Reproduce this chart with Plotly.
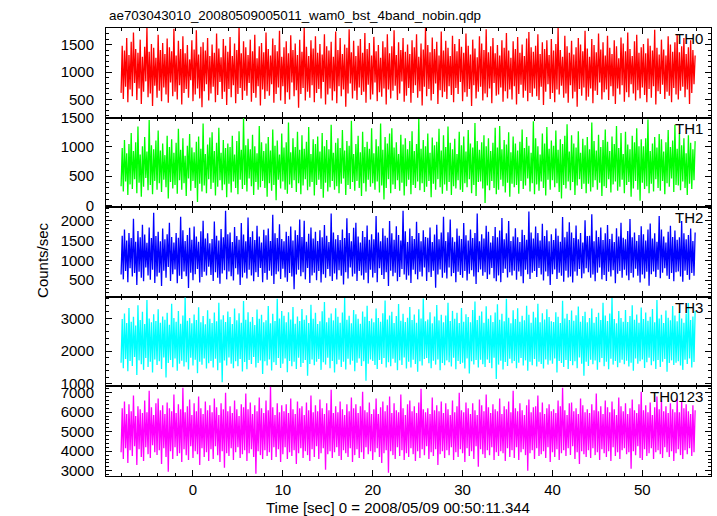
import plotly.graph_objects as go

TITLE = "ae703043010_20080509005011_wam0_bst_4band_nobin.qdp"
X_LABEL = "Time [sec] 0 = 2008/05/09 00:50:11.344"
Y_LABEL = "Counts/sec"
BANDS = ["TH0", "TH1", "TH2", "TH3", "TH0123"]
COLORS = ["#ff0000", "#00ff00", "#0000ff", "#00ffff", "#ff00ff"]

T_START = -8.0
T_BIN = 0.125

TH0 = [
    620, 1480, 510, 1390, 730, 1620, 450, 1310, 680, 1550, 560, 1720, 800, 1420, 490, 1350,
    700, 1590, 420, 1280, 640, 1460, 830, 1800, 540, 1370, 610, 1510, 380, 1440, 750, 1260,
    530, 1680, 660, 1400, 470, 1530, 720, 1330, 590, 1610, 440, 1450, 810, 1380, 560, 1790,
    640, 1300, 500, 1570, 760, 1420, 410, 1650, 620, 1340, 690, 1490, 530, 1230, 850, 1580,
    470, 1410, 590, 1760, 700, 1320, 520, 1460, 360, 1540, 650, 1390, 780, 1620, 480, 1290,
    610, 1500, 730, 1350, 450, 1700, 580, 1430, 820, 1270, 510, 1600, 640, 1480, 400, 1370,
    690, 1640, 540, 1290, 760, 1520, 430, 1400, 600, 1830, 710, 1340, 490, 1560, 660, 1450,
    570, 1310, 800, 1590, 460, 1380, 620, 1680, 530, 1250, 740, 1470, 390, 1530, 680, 1360,
    510, 1720, 650, 1420, 570, 1300, 780, 1610, 440, 1490, 600, 1380, 720, 1750, 480, 1280,
    740, 1450, 420, 1560, 630, 1340, 500, 1670, 810, 1400, 560, 1520, 670, 1310, 350, 1590,
    600, 1370, 710, 1800, 480, 1460, 640, 1290, 530, 1580, 760, 1430, 450, 1650, 620, 1350,
    690, 1510, 520, 1320, 820, 1690, 410, 1470, 590, 1390, 700, 1550, 480, 1280, 650, 1740,
    430, 1400, 740, 1620, 560, 1330, 680, 1500, 370, 1440, 610, 1780, 790, 1360, 520, 1570,
    660, 1290, 490, 1480, 720, 1600, 580, 1350, 640, 1710, 440, 1420, 770, 1530, 500, 1300,
    590, 1640, 810, 1380, 470, 1490, 630, 1260, 550, 1560, 700, 1450, 410, 1690, 680, 1340,
    520, 1470, 660, 1760, 750, 1310, 490, 1540, 610, 1400, 830, 1620, 460, 1370, 570, 1500,
    710, 1330, 440, 1580, 620, 1450, 760, 1690, 530, 1280, 650, 1520, 390, 1410, 730, 1820,
    560, 1490, 690, 1360, 480, 1630, 600, 1420, 790, 1550, 420, 1300, 670, 1740, 540, 1390,
    640, 1570, 510, 1440, 740, 1290, 580, 1660, 450, 1510, 710, 1380, 600, 1600, 820, 1460,
    470, 1350, 630, 1700, 550, 1480, 690, 1320, 380, 1590, 760, 1430, 520, 1270, 640, 1650,
    730, 1520, 480, 1400, 610, 1780, 540, 1360, 700, 1470, 430, 1620, 800, 1340, 570, 1490,
    590, 1300, 720, 1580, 460, 1440, 650, 1710, 520, 1390, 680, 1260, 500, 1560, 740, 1420,
    410, 1640, 600, 1350, 770, 1500, 530, 1290, 660, 1610, 470, 1730, 620, 1450, 550, 1370,
    700, 1480, 560, 1690, 490, 1330, 730, 1540, 400, 1420, 640, 1580, 780, 1310, 510, 1600,
    620, 1390, 450, 1510, 680, 1800, 590, 1400, 750, 1280, 530, 1660, 610, 1470, 440, 1350,
    760, 1570, 520, 1320, 640, 1450, 370, 1620, 690, 1500, 570, 1380, 720, 1750, 480, 1430,
    550, 1280, 700, 1600, 430, 1490, 660, 1360, 580, 1700, 810, 1410, 500, 1540, 630, 1300,
    680, 1660, 490, 1440, 740, 1330, 560, 1580, 420, 1470, 700, 1250, 590, 1630, 760, 1520,
    460, 1380, 630, 1720, 540, 1420, 780, 1290, 610, 1560, 480, 1680, 670, 1350, 520, 1450,
    720, 1510, 580, 1340, 450, 1610, 690, 1480, 530, 1390, 740, 1770, 410, 1440, 650, 1320,
    600, 1590, 770, 1410, 510, 1300, 640, 1650, 570, 1500, 450, 1370, 710, 1540, 590, 1690,
    500, 1360, 660, 1470, 730, 1620, 540, 1330, 680, 1450, 420, 1580, 620, 1400, 780, 1300,
]

TH1 = [
    330, 980, 240, 1120, 410, 890, 180, 1050, 360, 1240, 280, 930, 450, 1080, 210, 1350,
    390, 870, 150, 1010, 320, 1170, 470, 920, 260, 1460, 350, 1030, 190, 960, 420, 1110,
    270, 1280, 380, 940, 230, 1060, 440, 860, 310, 1190, 120, 1000, 400, 1130, 290, 900,
    350, 1070, 200, 1310, 430, 950, 270, 1150, 380, 850, 160, 1020, 460, 1220, 250, 990,
    420, 910, 300, 1090, 60, 1180, 370, 970, 240, 1400, 340, 880, 210, 1040, 450, 1160,
    280, 1250, 390, 930, 170, 1070, 320, 1330, 430, 900, 260, 1120, 360, 980, 140, 1060,
    370, 1000, 220, 1190, 410, 870, 300, 1100, 190, 1270, 440, 950, 280, 1490, 350, 1030,
    240, 1140, 460, 960, 330, 1210, 180, 1010, 400, 890, 270, 1360, 310, 1080, 420, 930,
    300, 1060, 150, 1170, 380, 940, 250, 1300, 350, 1020, 90, 1110, 440, 870, 290, 1230,
    410, 990, 270, 1080, 200, 1420, 360, 910, 300, 1150, 430, 1000, 230, 1260, 380, 950,
    190, 1200, 340, 970, 450, 1090, 260, 1340, 320, 880, 400, 1130, 170, 1050, 350, 1180,
    440, 920, 280, 1240, 130, 1010, 390, 1120, 240, 960, 310, 1380, 420, 900, 270, 1070,
    330, 1150, 210, 980, 370, 1290, 460, 940, 180, 1100, 350, 1020, 280, 1450, 400, 880,
    250, 1050, 420, 1190, 300, 910, 160, 1260, 380, 1000, 240, 1090, 440, 970, 320, 1320,
    380, 890, 270, 1130, 410, 1010, 220, 1400, 340, 950, 100, 1170, 300, 1060, 450, 1230,
    210, 1320, 360, 990, 280, 1080, 430, 880, 250, 1210, 390, 1040, 170, 1150, 330, 960,
    440, 1100, 190, 1270, 350, 930, 300, 1050, 410, 1480, 260, 970, 380, 1120, 230, 1010,
    320, 1230, 420, 900, 140, 1160, 370, 1030, 270, 1090, 450, 1310, 310, 940, 200, 1200,
    360, 1000, 250, 1350, 400, 1070, 180, 960, 330, 1140, 290, 880, 430, 1260, 270, 1030,
    230, 1180, 380, 920, 310, 1290, 450, 1060, 210, 990, 350, 1410, 160, 1100, 400, 950,
    410, 1080, 290, 1200, 40, 1010, 340, 1150, 260, 930, 420, 1070, 300, 1330, 190, 990,
    270, 1360, 440, 960, 330, 1120, 220, 1040, 390, 1250, 150, 910, 370, 1180, 310, 1060,
    350, 940, 200, 1090, 420, 1300, 280, 980, 340, 1170, 460, 1020, 240, 900, 380, 1440,
    190, 1150, 360, 1010, 250, 870, 410, 1230, 300, 1060, 170, 1340, 440, 970, 270, 1110,
    430, 1020, 310, 1280, 380, 950, 230, 1130, 120, 1050, 350, 1190, 290, 1390, 410, 920,
    260, 1200, 400, 1060, 180, 990, 340, 1270, 450, 900, 280, 1140, 370, 1030, 210, 1170,
    370, 960, 240, 1420, 310, 1100, 430, 940, 270, 1210, 390, 1000, 160, 1120, 330, 1300,
    300, 1090, 450, 930, 220, 1180, 360, 1050, 410, 1360, 250, 980, 320, 1240, 440, 880,
    210, 1260, 350, 1040, 400, 960, 150, 1190, 290, 1080, 420, 1320, 270, 1010, 80, 1130,
    390, 1010, 280, 1150, 330, 1470, 210, 930, 370, 1060, 240, 1170, 450, 990, 300, 1220,
    250, 1130, 420, 920, 190, 1080, 380, 1290, 320, 1000, 460, 1110, 230, 1380, 350, 970,
    340, 1240, 260, 1030, 410, 1150, 300, 890, 180, 1200, 370, 1070, 280, 960, 430, 1100,
]

TH2 = [
    640, 1620, 520, 1780, 730, 1500, 450, 1690, 800, 1560, 590, 2050, 680, 1470, 380, 1740,
    710, 1580, 560, 1900, 470, 1650, 820, 1440, 620, 1830, 510, 1560, 760, 2200, 430, 1610,
    590, 1720, 690, 1480, 350, 1800, 740, 1530, 560, 1660, 830, 1950, 480, 1590, 650, 1450,
    770, 1690, 420, 1570, 610, 2100, 530, 1760, 720, 1490, 600, 1640, 300, 1820, 690, 1520,
    500, 1850, 650, 1600, 780, 1470, 440, 1730, 580, 2000, 710, 1550, 620, 1680, 840, 1430,
    630, 1540, 480, 1980, 700, 1620, 560, 1500, 410, 1790, 670, 1580, 750, 2250, 520, 1660,
    720, 1700, 600, 1460, 490, 1840, 800, 1610, 640, 1520, 380, 1940, 570, 1650, 690, 1480,
    540, 2080, 760, 1590, 620, 1730, 470, 1510, 700, 1870, 580, 1600, 810, 1450, 450, 1770,
    680, 1630, 510, 1800, 740, 1490, 610, 2150, 400, 1680, 650, 1560, 720, 1910, 530, 1540,
    790, 1480, 570, 1720, 460, 1610, 680, 1850, 590, 1500, 270, 1760, 640, 1640, 760, 2030,
    600, 1590, 700, 2000, 520, 1470, 810, 1670, 430, 1830, 620, 1550, 690, 1720, 500, 1490,
    730, 1760, 440, 1580, 650, 1890, 560, 1620, 780, 1460, 600, 2180, 480, 1700, 670, 1530,
    520, 1640, 750, 1510, 610, 1780, 390, 1560, 700, 2060, 540, 1690, 820, 1480, 590, 1820,
    660, 1950, 480, 1600, 730, 1450, 620, 1740, 510, 1590, 690, 1880, 420, 1520, 760, 1660,
    570, 1530, 680, 2120, 450, 1700, 800, 1480, 630, 1810, 530, 1620, 700, 1570, 350, 1990,
    740, 1680, 600, 1520, 690, 1860, 470, 1640, 580, 1500, 780, 2250, 640, 1730, 510, 1460,
    620, 1800, 430, 1610, 760, 1540, 650, 1970, 520, 1690, 710, 1480, 590, 1760, 820, 1590,
    480, 1570, 700, 1830, 580, 1460, 740, 1650, 310, 1900, 640, 1530, 770, 1700, 560, 2100,
    690, 1490, 540, 1710, 820, 2030, 600, 1580, 680, 1470, 450, 1800, 710, 1620, 630, 1540,
    560, 1940, 730, 1630, 490, 1500, 660, 1780, 750, 1560, 590, 1690, 400, 2180, 700, 1480,
    770, 1660, 610, 1550, 700, 1870, 530, 1720, 640, 1450, 810, 1610, 550, 1840, 470, 1580,
    620, 1750, 450, 2070, 680, 1530, 790, 1680, 570, 1990, 700, 1490, 620, 1600, 740, 1810,
    510, 1580, 720, 1460, 600, 1770, 420, 1640, 760, 1520, 650, 2230, 530, 1700, 690, 1550,
    730, 1850, 580, 1690, 810, 1500, 640, 1920, 490, 1610, 720, 1760, 600, 1480, 380, 1660,
    650, 1510, 770, 1800, 530, 1620, 690, 1470, 610, 2090, 460, 1580, 740, 1720, 570, 1960,
    590, 1700, 440, 1560, 720, 1880, 610, 1530, 780, 1690, 550, 1450, 670, 2010, 800, 1610,
    700, 1620, 560, 2160, 640, 1480, 470, 1750, 690, 1590, 820, 1830, 520, 1510, 630, 1680,
    480, 1890, 710, 1540, 590, 1670, 750, 1460, 420, 1810, 660, 1600, 730, 1950, 560, 1570,
    760, 1530, 620, 1740, 500, 2040, 680, 1580, 570, 1700, 790, 1490, 610, 1640, 440, 1860,
    640, 1660, 540, 1500, 710, 1780, 360, 1930, 650, 1550, 720, 1680, 580, 1470, 760, 2120,
    550, 1780, 690, 1600, 800, 1450, 610, 1720, 530, 1870, 680, 1590, 470, 1750, 700, 1520,
    720, 1580, 590, 1990, 460, 1680, 740, 1530, 630, 1640, 510, 1800, 680, 1490, 610, 1700,
]

TH3 = [
    1650, 2980, 1480, 3150, 1760, 2860, 1390, 3320, 1700, 2900, 1550, 3050, 1820, 2780, 1270, 3400,
    1720, 2950, 1600, 3200, 1430, 2830, 1790, 3560, 1520, 3000, 1680, 2880, 1350, 3130, 1750, 2920,
    1580, 3280, 1690, 2870, 1460, 3060, 1810, 2960, 1200, 3170, 1640, 2810, 1730, 3450, 1510, 3010,
    1780, 2900, 1400, 3230, 1620, 2840, 1710, 3090, 1530, 3640, 1660, 2930, 1440, 3010, 1800, 2850,
    1560, 3120, 1740, 2950, 1330, 3340, 1680, 2880, 1590, 3070, 1780, 2820, 1470, 3250, 1630, 2990,
    1700, 2860, 1500, 3180, 1770, 2910, 1420, 3480, 1650, 2970, 1050, 3100, 1720, 2890, 1560, 3210,
    1810, 3040, 1620, 2830, 1480, 3300, 1690, 2940, 1540, 3160, 1760, 2870, 1380, 3530, 1670, 2960,
    1450, 3190, 1730, 2900, 1610, 3040, 1820, 2800, 1500, 3270, 1640, 2990, 1720, 3110, 1300, 2880,
    1690, 2940, 1560, 3380, 1750, 2850, 1410, 3140, 1660, 2920, 1580, 3600, 1790, 3000, 1490, 3230,
    1620, 3080, 1780, 2880, 1360, 3190, 1700, 2970, 1540, 3350, 1680, 2840, 1460, 3060, 1800, 2920,
    1520, 3290, 1640, 2960, 1730, 3100, 1250, 2860, 1610, 3420, 1750, 2990, 1570, 3170, 1680, 2830,
    1760, 2910, 1430, 3220, 1660, 3500, 1590, 2880, 1800, 3020, 1480, 3150, 1700, 2940, 1350, 3310,
    1600, 3050, 1740, 2870, 1520, 3180, 1680, 3620, 1440, 2960, 1770, 3080, 1590, 2850, 1710, 3260,
    1390, 3130, 1650, 2990, 1780, 2840, 1550, 3210, 1690, 3050, 1100, 3390, 1620, 2920, 1750, 3000,
    1700, 2880, 1580, 3300, 1460, 3010, 1730, 2900, 1610, 3160, 1790, 3550, 1500, 2970, 1660, 3090,
    1540, 3200, 1770, 2860, 1650, 3070, 1420, 3440, 1720, 2930, 1580, 3140, 1810, 2890, 1470, 3020,
    1680, 3350, 1500, 2950, 1740, 3120, 1610, 2870, 1370, 3280, 1690, 3000, 1560, 3610, 1760, 2910,
    1790, 2970, 1630, 3190, 1480, 2850, 1710, 3060, 1590, 3410, 1750, 2940, 1420, 3110, 1640, 2880,
    1570, 3090, 1720, 3480, 1660, 2920, 1530, 3230, 1800, 2990, 1450, 3170, 1700, 2860, 1610, 3320,
    1650, 2900, 1470, 3130, 1780, 3040, 1320, 2880, 1690, 3260, 1590, 3520, 1730, 2950, 1500, 3080,
    1740, 3210, 1600, 2870, 1520, 3370, 1750, 2990, 1640, 3100, 1480, 2890, 1800, 3180, 1150, 3430,
    1590, 2960, 1710, 3140, 1440, 2910, 1670, 3600, 1550, 3020, 1770, 2850, 1630, 3250, 1700, 2980,
    1480, 3310, 1650, 2900, 1790, 3080, 1560, 2940, 1720, 3390, 1400, 3110, 1680, 2870, 1570, 3200,
    1760, 3030, 1530, 3450, 1680, 2880, 1610, 3160, 1470, 2970, 1750, 3280, 1590, 3040, 1720, 2910,
    1620, 2890, 1780, 3190, 1350, 3050, 1700, 2860, 1640, 3540, 1520, 3000, 1730, 3140, 1460, 2950,
    1700, 3240, 1570, 2930, 1690, 3100, 1480, 3360, 1810, 2900, 1620, 3070, 1250, 3200, 1680, 2880,
    1550, 3010, 1740, 3300, 1600, 2870, 1720, 3040, 1430, 3170, 1660, 2950, 1790, 3480, 1540, 3090,
    1680, 2920, 1450, 3150, 1770, 3620, 1590, 2980, 1700, 2850, 1510, 3230, 1650, 3010, 1740, 2900,
    1600, 3260, 1710, 2890, 1530, 3070, 1650, 3400, 1400, 2960, 1780, 3120, 1620, 2870, 1690, 3330,
    1750, 2980, 1490, 3180, 1660, 2930, 1800, 3050, 1570, 3290, 1690, 2880, 1460, 3560, 1730, 3000,
    1520, 3110, 1680, 2860, 1760, 3240, 1370, 3020, 1640, 2940, 1720, 3380, 1580, 3090, 1650, 2910,
    1690, 3190, 1560, 3000, 1430, 2870, 1740, 3150, 1610, 3470, 1780, 2950, 1500, 3060, 1670, 3230,
]

TH0123 = [
    3950, 6200, 3600, 6550, 4150, 5900, 3400, 6400, 4050, 6050, 3750, 6850, 4250, 5800, 3300, 6300,
    4100, 6150, 3700, 5950, 3500, 6600, 4200, 6000, 3850, 7100, 3650, 6250, 4300, 5850, 3950, 6450,
    3800, 6700, 4050, 6100, 3350, 6350, 4150, 5900, 3700, 6500, 2950, 6200, 4000, 6050, 3600, 6900,
    4200, 5950, 3750, 6400, 3900, 6150, 3450, 7250, 4100, 6000, 3800, 6300, 3550, 6650, 4250, 5850,
    3650, 6450, 4000, 6050, 3850, 6800, 3300, 6200, 4150, 5900, 3700, 6550, 3950, 6100, 3500, 6350,
    4100, 6000, 3600, 6700, 4250, 6250, 3800, 5850, 3450, 6450, 4000, 6150, 3150, 7000, 3900, 6050,
    3750, 6300, 4150, 5950, 3550, 6600, 3950, 6150, 4200, 5800, 3650, 6400, 3850, 6250, 4050, 6950,
    3500, 6150, 3900, 6500, 4100, 5900, 3700, 6350, 2850, 6050, 4000, 6750, 3800, 6200, 3600, 5950,
    4050, 6600, 3750, 6100, 3950, 7300, 3550, 6250, 4200, 5850, 3700, 6450, 4100, 6000, 3450, 6350,
    3850, 6050, 4200, 6400, 3600, 5950, 3950, 6700, 3750, 6150, 4050, 5900, 3350, 6550, 3900, 6200,
    4150, 6300, 3650, 5850, 4000, 6500, 3800, 6100, 3500, 6850, 4100, 6000, 3700, 6350, 4250, 6050,
    3600, 6650, 3900, 6200, 4150, 5900, 3050, 6450, 3850, 6100, 4000, 7150, 3650, 5950, 3950, 6300,
    4200, 6000, 3750, 6550, 3550, 6150, 4050, 5850, 3900, 6400, 3700, 6050, 4150, 6750, 3450, 6200,
    3800, 6400, 4100, 5950, 3650, 6300, 3950, 7050, 3600, 6100, 4200, 6000, 3850, 6500, 4000, 5900,
    3550, 6150, 3950, 6700, 4150, 5900, 3700, 6250, 3400, 6550, 3900, 6050, 4050, 6350, 2900, 6800,
    4000, 5950, 3800, 6450, 3600, 6100, 4200, 6000, 3750, 6900, 4050, 6200, 3550, 5850, 3900, 6400,
    3700, 6600, 4150, 6050, 3850, 6300, 3500, 5950, 4000, 6500, 3650, 7200, 4100, 6150, 3800, 6000,
    4250, 6200, 3600, 5900, 3950, 6750, 3750, 6100, 4100, 6350, 3300, 6050, 3850, 6550, 4000, 5950,
    3650, 6450, 4050, 6150, 3800, 5850, 4200, 6600, 3550, 6000, 3950, 6300, 3700, 7000, 4100, 6100,
    3900, 6000, 3450, 6500, 4150, 6200, 3750, 5900, 4000, 6450, 3600, 6100, 4250, 5850, 3200, 6650,
    4100, 6350, 3850, 6050, 3650, 6900, 4050, 6250, 3800, 5950, 4200, 6400, 3550, 6150, 3950, 6050,
    3750, 6700, 4000, 5900, 3900, 6300, 3500, 6150, 4150, 6550, 3700, 6000, 4050, 7100, 3650, 6200,
    4200, 6050, 3550, 6450, 3950, 6100, 4100, 5850, 3800, 6350, 3000, 6650, 3900, 6000, 4050, 6250,
    3600, 6300, 4150, 6850, 3750, 6000, 3850, 6500, 4000, 5900, 3650, 6200, 4200, 6400, 3450, 6050,
    3950, 6150, 3700, 5950, 4100, 6600, 3550, 6300, 3900, 7250, 4050, 6100, 3750, 5850, 4150, 6450,
    3800, 6500, 4250, 6050, 3600, 6200, 3950, 5900, 3350, 6700, 4000, 6350, 3850, 6000, 3700, 6150,
    4050, 5950, 3650, 6400, 4150, 6100, 3800, 6950, 3950, 6050, 3550, 6300, 4100, 5900, 3900, 6600,
    3700, 6250, 4000, 6000, 3500, 6550, 4200, 6150, 3750, 5850, 3950, 6750, 3600, 6300, 4050, 6050,
    4150, 6450, 3850, 5900, 3950, 6200, 3100, 6650, 4000, 6100, 3800, 5950, 4250, 6400, 3650, 7050,
    3550, 6100, 4100, 6350, 3750, 6000, 3900, 6500, 4150, 5850, 3600, 6250, 3950, 6800, 4050, 6150,
    3850, 6600, 3650, 6050, 4200, 6300, 3950, 5950, 3700, 6450, 4000, 6150, 3500, 6000, 3900, 6700,
    4100, 6000, 3800, 6550, 3600, 6200, 4050, 6400, 3850, 6050, 4150, 5900, 3750, 6350, 3950, 6100,
]

SERIES = [TH0, TH1, TH2, TH3, TH0123]

X_RANGE = [-9.68, 57.64]
X_TICKS = [0, 10, 20, 30, 40, 50]
Y_RANGES = [[170, 1802], [-30, 1502], [80, 2340], [925, 3660], [2730, 7320]]
Y_TICKS = [
    [500, 1000, 1500],
    [0, 500, 1000, 1500],
    [500, 1000, 1500, 2000],
    [1000, 2000, 3000],
    [3000, 4000, 5000, 6000, 7000],
]
Y_MINOR = [100, 100, 100, 200, 200]

FONT = "Liberation Sans, Arial, sans-serif"

fig = go.Figure()
n_panels = len(SERIES)
for i, (vals, color, name) in enumerate(zip(SERIES, COLORS, BANDS)):
    k = "" if i == 0 else str(i + 1)
    t = [T_START + T_BIN * j for j in range(len(vals))]
    fig.add_trace(go.Scatter(
        x=t, y=vals, mode="lines", name=name,
        line=dict(color=color, width=1.3),
        xaxis="x" + k, yaxis="y" + k, showlegend=False, hoverinfo="skip",
    ))
    top = 1 - i / n_panels
    bot = 1 - (i + 1) / n_panels
    last = (i == n_panels - 1)
    xa = dict(
        domain=[0, 1], anchor="y" + k, range=X_RANGE,
        tickvals=X_TICKS, showticklabels=last,
        ticks="inside", ticklen=6, tickcolor="black",
        minor=dict(ticks="inside", ticklen=3, dtick=2, tickcolor="black"),
        showline=True, linecolor="black", linewidth=1, mirror="allticks",
        showgrid=False, zeroline=False,
        tickfont=dict(family=FONT, size=15, color="black"),
    )
    if i > 0:
        xa["matches"] = "x"
    ya = dict(
        domain=[bot, top], anchor="x" + k, range=Y_RANGES[i],
        tickvals=Y_TICKS[i],
        ticks="inside", ticklen=6, tickcolor="black",
        minor=dict(ticks="inside", ticklen=3, dtick=Y_MINOR[i], tickcolor="black"),
        showline=True, linecolor="black", linewidth=1, mirror="allticks",
        showgrid=False, zeroline=False, ticklabelstandoff=8,
        tickfont=dict(family=FONT, size=15, color="black"),
    )
    fig.layout["xaxis" + k] = xa
    fig.layout["yaxis" + k] = ya
    fig.add_annotation(
        text=name, xref="paper", yref="y" + k + " domain",
        x=0.99, y=1.0, xanchor="right", yanchor="top", showarrow=False,
        font=dict(family=FONT, size=15, color="black"),
    )

fig.add_annotation(
    text=TITLE, xref="paper", yref="paper", x=0, y=1.029,
    xanchor="left", yanchor="middle", showarrow=False, xshift=1,
    font=dict(family=FONT, size=13.4, color="black"),
)
fig.add_annotation(
    text=X_LABEL, xref="paper", yref="paper", x=0.4826, y=-0.071,
    xanchor="center", yanchor="middle", showarrow=False,
    font=dict(family=FONT, size=15, color="black"),
)
fig.add_annotation(
    text=Y_LABEL, xref="paper", yref="paper", x=-0.106, y=0.482,
    xanchor="center", yanchor="middle", showarrow=False, textangle=-90,
    font=dict(family=FONT, size=15, color="black"),
)

fig.update_layout(
    width=717, height=516,
    margin=dict(l=106, r=6, t=28, b=40),
    paper_bgcolor="white", plot_bgcolor="white",
    font=dict(family=FONT, size=15, color="black"),
    hovermode=False,
)

fig.write_html(
    "out.html",
    config={"displayModeBar": False, "staticPlot": True},
    post_script="document.body.style.margin='0px';",
)
